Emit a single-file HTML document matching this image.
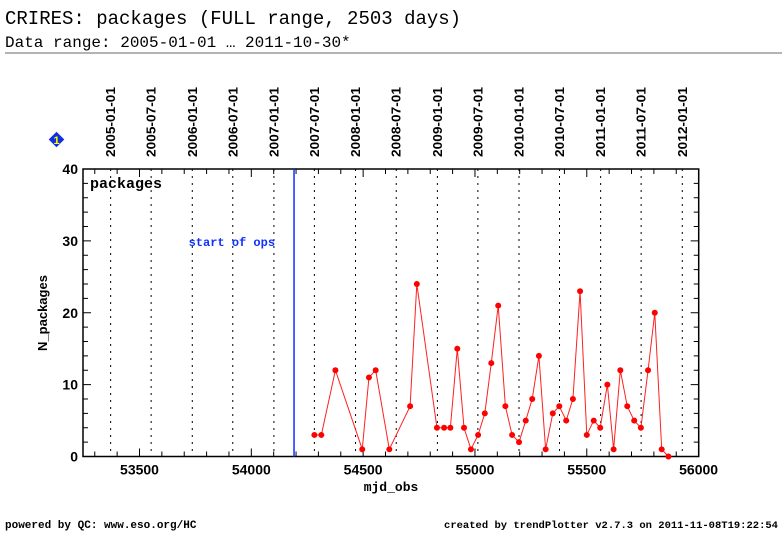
<!DOCTYPE html>
<html><head><meta charset="utf-8"><style>
html,body{margin:0;padding:0;background:#fff;}
svg{display:block;}
text{font-family:"Liberation Sans",sans-serif;}
</style></head><body>
<svg id="chart" width="782" height="542" xmlns="http://www.w3.org/2000/svg">
<text x="5" y="24" style="font-family:'Liberation Mono',monospace;font-size:19px">CRIRES: packages (FULL range, 2503 days)</text>
<text x="5" y="47" style="font-family:'Liberation Mono',monospace;font-size:16px">Data range: 2005-01-01 … 2011-10-30*</text>
<line x1="5" y1="53" x2="782" y2="53" stroke="#888" stroke-width="1.2"/>
<g>
<rect x="51" y="134" width="11" height="11" fill="#1030e0" transform="rotate(45 56.5 139.5)"/>
<text x="56.5" y="144" text-anchor="middle" fill="#ff0" font-size="11" font-weight="bold">1</text>
</g>
<g id="grid"></g>
<g id="axes"></g>
<g id="series"></g>
<text x="5" y="528" font-size="11" font-weight="bold" style="font-family:'Liberation Mono',monospace">powered by QC: www.eso.org/HC</text>
<text x="778" y="528" font-size="10.5" font-weight="bold" text-anchor="end" style="font-family:'Liberation Mono',monospace">created by trendPlotter v2.7.3 on 2011-11-08T19:22:54</text>
</svg>
<script>
const mjd = [54282,54313,54376,54496,54526,54556,54617,54710,54740,54830,54862,54890,54921,54951,54982,55014,55044,55073,55104,55136,55166,55197,55227,55256,55286,55316,55348,55377,55408,55438,55470,55500,55531,55560,55592,55620,55650,55681,55712,55742,55774,55804,55835,55865];
const packages = [3,3,12,1,11,12,1,7,24,4,4,4,15,4,1,3,6,13,21,7,3,2,5,8,14,1,6,7,5,8,23,3,5,4,10,1,12,7,5,4,12,20,1,0];
const dateLabels = ["2005-01-01","2005-07-01","2006-01-01","2006-07-01","2007-01-01","2007-07-01","2008-01-01","2008-07-01","2009-01-01","2009-07-01","2010-01-01","2010-07-01","2011-01-01","2011-07-01","2012-01-01"];
const dateMjd = [53371,53552,53736,53917,54101,54282,54466,54648,54832,55013,55197,55378,55562,55743,55927];
const xTicks = [53500,54000,54500,55000,55500,56000];
const yTicks = [0,10,20,30,40];
const startOps = 54191;

const NS="http://www.w3.org/2000/svg";
const L=83, R=698.7, T=169, B=456.5;
const x0=53500, xs=0.22364;
const X=v=>139.5+(v-x0)*xs;
const Y=v=>B-(v/40)*(B-T);
function mk(tag,attrs,parent){const e=document.createElementNS(NS,tag);for(const k in attrs)e.setAttribute(k,attrs[k]);parent.appendChild(e);return e;}
const grid=document.getElementById('grid'),axes=document.getElementById('axes'),series=document.getElementById('series');

dateMjd.forEach((d,i)=>{
  const x=X(d);
  const gl=mk('line',{x1:x,y1:T,x2:x,y2:B,stroke:'#000','stroke-width':1,'stroke-dasharray':'2,5'},grid);
  
  
  const t=mk('text',{x:0,y:0,'font-size':12.5,'font-weight':'bold',textLength:70,lengthAdjust:'spacingAndGlyphs',transform:`translate(${x+4.5},157) rotate(-90)`},grid);
  t.textContent=dateLabels[i];
  
  
});

const frame=mk('rect',{x:L,y:T,width:R-L,height:B-T,fill:'none',stroke:'#000','stroke-width':1.5},axes);



for(let v=53300;v<=56000;v+=100){
  const x=X(v); if(x<L+1) continue;
  const major=v%500===0, len=major?8:5;
  mk('line',{x1:x,y1:B,x2:x,y2:B-len,stroke:'#000','stroke-width':1},axes);
  mk('line',{x1:x,y1:T,x2:x,y2:T+len,stroke:'#000','stroke-width':1},axes);
}
xTicks.forEach(v=>{
  const t=mk('text',{x:X(v),y:B+18,'font-size':14,'font-weight':'bold','text-anchor':'middle'},axes);
  t.textContent=v;
  
  
});
for(let v=0;v<=40;v+=2){
  const y=Y(v), len=v%10===0?8:5;
  mk('line',{x1:L,y1:y,x2:L+len,y2:y,stroke:'#000','stroke-width':1},axes);
  mk('line',{x1:R,y1:y,x2:R-len,y2:y,stroke:'#000','stroke-width':1},axes);
}
yTicks.forEach(v=>{
  const t=mk('text',{x:L-5,y:Y(v)+5,'font-size':14,'font-weight':'bold','text-anchor':'end'},axes);
  t.textContent=v;
  
  
});
const xt=mk('text',{x:391,y:491,'font-size':13,'font-weight':'bold','text-anchor':'middle',style:"font-family:'Liberation Mono',monospace"},axes);
xt.textContent='mjd_obs';


const yt=mk('text',{x:0,y:0,'font-size':13,'font-weight':'bold','text-anchor':'middle',transform:'translate(47,313) rotate(-90)'},axes);
yt.textContent='N_packages';


const lg=mk('text',{x:90,y:188,'font-size':15,'font-weight':'bold',style:"font-family:'Liberation Mono',monospace"},axes);
lg.textContent='packages';



const so=mk('line',{x1:X(startOps),y1:T,x2:X(startOps),y2:B,stroke:'#1030ff','stroke-width':1.5},series);


const st=mk('text',{x:X(startOps)-19,y:246,'font-size':12,'font-weight':'bold',fill:'#1030ff','text-anchor':'end',style:"font-family:'Liberation Mono',monospace"},series);
st.textContent='start of ops';



const pl=mk('polyline',{points:mjd.map((d,i)=>X(d)+','+Y(packages[i])).join(' '),fill:'none',stroke:'#ff2020','stroke-width':1},series);


mjd.forEach((d,i)=>{
  const c=mk('circle',{cx:X(d),cy:Y(packages[i]),r:3,fill:'#ff0000'},series);
  
  
});
</script>
</body></html>
